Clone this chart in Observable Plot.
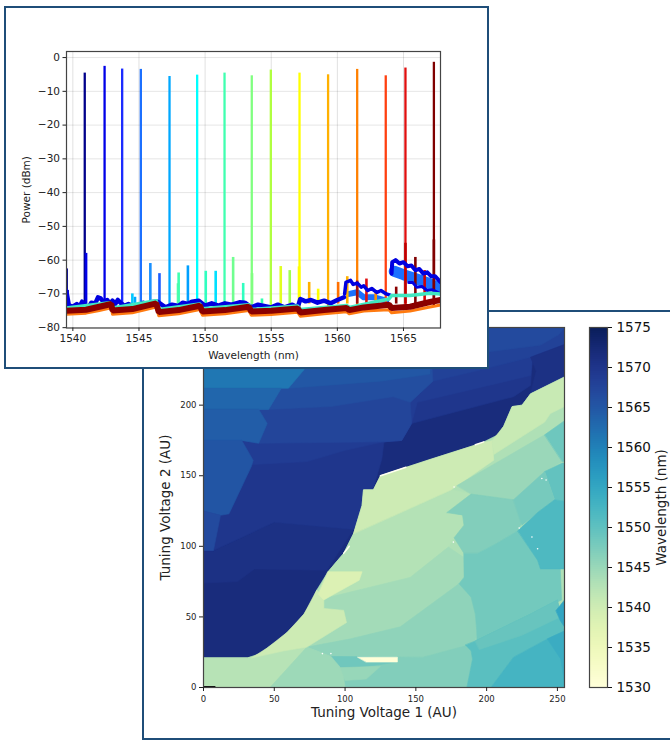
<!DOCTYPE html>
<html><head><meta charset="utf-8">
<script src="https://cdn.jsdelivr.net/npm/d3@7"></script>
<script src="https://cdn.jsdelivr.net/npm/@observablehq/plot@0.6"></script>
<style>
html,body{margin:0;padding:0;width:670px;height:740px;overflow:hidden;background:#fff;font-family:"DejaVu Sans",sans-serif}
.box{position:absolute;box-sizing:border-box;border:2px solid #1f4e79;background:#fff}
.layer{position:absolute;left:0;top:0}
.layer svg{display:block;background:transparent!important}
.soft{filter:blur(.7px)}
.soft2{filter:blur(.4px)}
</style></head><body>
<div class="box" style="left:142px;top:310px;width:560px;height:430px"></div>
<div class="layer" id="heat"></div>
<div class="layer" id="bar"></div>
<div class="box" style="left:4px;top:6px;width:485px;height:363px"></div>
<div class="layer" id="spec"></div>
<script>
const font = "DejaVu Sans";
// ---------- spectrum panel ----------
const peakWavelengths = [1540.9,1542.4,1543.73,1545.14,1547.31,1549.4,1551.47,1553.53,1554.97,1557.14,1559.3,1561.5,1563.66,1565.15,1567.3];
const peakPowers = [-4.6,-2.6,-3.4,-3.5,-5.6,-5.2,-4.6,-5.4,-3.7,-4.6,-5.1,-3.5,-5.4,-3.1,-1.4];
const peakColors = ["#00008b","#0000e8","#1c2cff","#1c70ff","#00a8ff","#00ffff","#40ffb0","#80ff80","#b0ff40","#ffff00","#ffb000","#ff8000","#ff4010","#e01010","#800000"];
const sideWavelengths = [1539.53,1539.6,1541.0,1544.5,1544.7,1545.86,1546.55,1547.95,1548.0,1548.7,1550.05,1550.8,1552.12,1552.88,1553.55,1554.3,1555.72,1556.4,1557.1,1557.87,1558.55,1560.06,1560.75,1561.5,1562.2,1562.9,1564.45,1565.15,1565.9,1566.6,1567.3];
const sidePowers = [-62.6,-69,-58,-70,-71,-61,-64,-67,-63.8,-61.7,-63.3,-63.3,-59.2,-66.9,-64,-71.5,-61.9,-63.1,-62,-66.6,-68.6,-66.6,-64.9,-66.2,-65.6,-69.5,-68,-55,-59.2,-63.1,-54];
const sideColors = ["#00008b","#00008b","#0000e8","#00c8ff","#00a8ff","#1a90ff","#1a5cff","#60ffa0","#40ffb0","#00a0ff","#2fffc0","#00e0ff","#70ff90","#30ffc0","#80ff80","#30ffb0","#e0ff20","#a0ff50","#ffff00","#ffb000","#ffff00","#ff7000","#ffb000","#a01010","#e01010","#ff9000","#8b0000","#c00000","#800000","#d00000","#800000"];
const blueFloor = [[1539.5,-69],[1539.7,-73.4],[1540,-73.8],[1540.3,-73],[1540.5,-73.8],[1540.7,-72.3],[1540.9,-73.2],[1541.2,-74],[1541.4,-72.6],[1541.7,-72.8],[1541.9,-71],[1542.1,-71.3],[1542.3,-72.3],[1542.6,-71.8],[1542.8,-73],[1543,-72],[1543.2,-73],[1543.4,-71.8],[1543.6,-72.6],[1543.9,-73.5],[1544.2,-73],[1544.5,-73.6],[1545,-73.5],[1545.3,-72.6],[1545.6,-73],[1546,-72.4],[1546.4,-72.3],[1547,-74],[1547.5,-73.2],[1548,-73.6],[1548.3,-72.6],[1548.7,-73],[1549,-72.3],[1549.5,-72],[1550,-73.5],[1550.5,-72.8],[1551,-73.5],[1551.5,-72.8],[1552,-73.2],[1552.6,-72.5],[1553,-72.6],[1553.5,-74],[1554,-73.2],[1555,-74],[1555.5,-73.2],[1556,-74],[1556.6,-73.2],[1557,-74],[1557.2,-71.5],[1557.6,-72.2],[1558,-71.8],[1558.5,-72.6],[1559,-72],[1559.5,-72.8],[1560,-71.8],[1560.5,-71]];
const blueHumpA = [[1560.55,-70],[1560.65,-66.6],[1561,-66],[1561.2,-67.2],[1561.5,-66.8],[1561.8,-68],[1562,-67.6],[1562.3,-69],[1562.6,-68.4],[1563,-69.6],[1563.3,-69],[1563.7,-70],[1564,-70.4]];
const blueHumpB = [[1564.1,-64],[1564.15,-60.6],[1564.4,-60],[1564.7,-61],[1565,-60.6],[1565.3,-61.8],[1565.6,-61.6],[1565.9,-63],[1566.2,-62.6],[1566.5,-64],[1566.8,-63.6],[1567.1,-64.8],[1567.4,-64.8],[1567.8,-66.5]];
const blueHumpC = [[1565.4,-66.6],[1565.7,-66.6],[1566,-68],[1566.4,-67.8],[1566.8,-69],[1567.2,-68.8],[1567.8,-70]];
const midBlueFloor = [[1560.9,-70],[1561.5,-69.5],[1562,-71],[1562.8,-71],[1563.7,-72]];
const midBlueHump = [[1564.3,-63.3],[1565,-64.3],[1566,-65.6],[1567,-67],[1567.8,-68.4]];
const greenFloor = [[1539.5,-74.2],[1542.8,-72.6],[1543,-74.2],[1546.3,-72],[1546.5,-74.6],[1549.6,-73],[1549.8,-74.4],[1553.3,-73.2],[1553.5,-74.6],[1557,-73.6],[1557.2,-74.6],[1560.7,-73.4],[1560.9,-74],[1563.9,-71.5],[1564.1,-70.5],[1565.5,-70.5],[1567,-69.8],[1567.8,-70]];
const orangeFloor = [[1539.5,-76],[1541,-75.7],[1542,-74.9],[1542.9,-74.1],[1543,-76],[1544.5,-75.6],[1546.3,-73.9],[1546.5,-76.5],[1548,-75.9],[1549.6,-74.6],[1549.8,-76.3],[1551.5,-75.9],[1553.3,-74.9],[1553.5,-76.3],[1555,-76.1],[1557,-75.4],[1557.2,-76.6],[1559,-75.9],[1560.7,-75.3],[1560.9,-75.9],[1562,-75.1],[1563.9,-74.7],[1564.1,-75.6],[1565.5,-75.1],[1567,-73.9],[1567.8,-73.3]];
const darkRedFloor = [[1539.5,-75],[1541,-74.7],[1542,-73.8],[1542.9,-73],[1543,-74.9],[1544.5,-74.5],[1546.3,-72.8],[1546.5,-75.4],[1548,-74.8],[1549.6,-73.5],[1549.8,-75.2],[1551.5,-74.8],[1553.3,-73.8],[1553.5,-75.2],[1555,-75],[1557,-74.3],[1557.2,-75.5],[1559,-74.8],[1560.7,-74.2],[1560.9,-74.8],[1562,-74],[1563.9,-73.2],[1564.1,-74.2],[1565.5,-73.8],[1567,-72.4],[1567.8,-71.8]];
const specXTicks = [1540,1545,1550,1555,1560,1565];
const specYTicks = [0,-10,-20,-30,-40,-50,-60,-70,-80];
const toXY = a => a.map(([x,y]) => ({x,y}));
const peaks = peakWavelengths.map((x,i) => ({x,y:peakPowers[i],c:peakColors[i]}));
const sides = sideWavelengths.map((x,i) => ({x,y:sidePowers[i],c:sideColors[i]}));
document.getElementById("spec").append(Plot.plot({
  width:490,height:370,marginLeft:66,marginRight:50,marginTop:51,marginBottom:42.5,
  style:{background:"transparent",fontFamily:font},
  x:{domain:[1539.52,1567.8]},y:{domain:[-80.1,1.8]},
  marks:[
    Plot.gridX(specXTicks,{stroke:"#000",strokeOpacity:.12}),
    Plot.gridY(specYTicks,{stroke:"#000",strokeOpacity:.1}),
    Plot.line(toXY(midBlueHump),{x:"x",y:"y",stroke:"#1a70ff",strokeWidth:11,clip:true,className:"soft2"}),
    Plot.line(toXY(midBlueFloor),{x:"x",y:"y",stroke:"#1a70ff",strokeWidth:6,clip:true,className:"soft2"}),
    Plot.ruleX(peaks,{x:"x",y1:-74,y2:"y",stroke:d=>d.c,strokeWidth:2.3,clip:true,className:"soft2"}),
    Plot.ruleX(sides,{x:"x",y1:-73,y2:"y",stroke:d=>d.c,strokeWidth:2.6,clip:true,className:"soft2"}),
    Plot.line(toXY(blueFloor),{x:"x",y:"y",stroke:"#0000e0",strokeWidth:4.5,clip:true,className:"soft2"}),
    Plot.line(toXY(blueHumpA),{x:"x",y:"y",stroke:"#0000e0",strokeWidth:3.5,clip:true,className:"soft2"}),
    Plot.line(toXY(blueHumpB),{x:"x",y:"y",stroke:"#0000e0",strokeWidth:4,clip:true,className:"soft2"}),
    Plot.line(toXY(blueHumpC),{x:"x",y:"y",stroke:"#0000e0",strokeWidth:3,clip:true,className:"soft2"}),
    Plot.line(toXY(greenFloor),{x:"x",y:"y",stroke:"#40e8c0",strokeWidth:3.5,clip:true,className:"soft2"}),
    Plot.line(toXY(orangeFloor),{x:"x",y:"y",stroke:"#ff7a10",strokeWidth:3,clip:true,className:"soft2"}),
    Plot.line(toXY(darkRedFloor),{x:"x",y:"y",stroke:"#8b0000",strokeWidth:6,strokeLinejoin:"miter",clip:true,className:"soft2"}),
    Plot.frame({stroke:"#444",strokeWidth:1.2}),
    Plot.axisX(specXTicks,{tickSize:3.5,tickPadding:3,fontSize:10.5,label:null,tickFormat:"d",color:"#222"}),
    Plot.axisY(specYTicks,{tickSize:3.5,tickPadding:3,fontSize:10.5,label:null,color:"#222"}),
    Plot.text(["Wavelength (nm)"],{frameAnchor:"bottom",dy:31,fontSize:10.5,fill:"#222"}),
    Plot.text(["Power (dBm)"],{frameAnchor:"left",dx:-40,rotate:-90,textAnchor:"middle",fontSize:10.5,fill:"#222"})
  ]
}));

// ---------- tuning map panel ----------
const regionWavelengths = [
 1571.5,1570.6,1569.6,1568.5,1567.2,1567.7,1566.5,1566,1564.8,1561,1563,1564,1565,1566.5,1570.6,
 1543,1542.5,1544,1545.7,1546.8,1548.3,1545,1530,1542.3,1544.5,1540,1538,1540,1540.5,1544.8,1546.8,1548.5,1549.5,1547.7,1548,1551.5,1550.3,1549,1552.5,1553.8,1555];
const regionOutlines = [
 [[0,0],[255,0],[255,255],[0,255]],
 [[0,74],[24,75],[36,84],[87,83],[106,112],[50,117],[7,97],[0,97]],
 [[0,97],[7,97],[50,117],[106,112],[120,141],[126,162],[127.5,174],[140,175],[147,187],[219,206],[231,214],[234,255],[0,255]],
 [[0,158],[35,158],[73,160],[100,168],[127,174],[140,175],[147,187],[151,202],[231,221],[235,255],[0,255]],
 [[0,175],[27,175],[39,173],[127,174],[140,175],[147,187],[146,202],[162,217],[160,255],[0,255]],
 [[162,217],[196,225],[231,234],[255,243],[255,255],[160,255]],
 [[160,238],[203,238],[238,242.5],[251,250],[255,255],[160,255]],
 [[0,197],[46,197],[90,199],[134,206],[146,202],[162,217],[160,255],[0,255]],
 [[60,212],[125,217],[160,222],[160,255],[85,255],[71,225]],
 [[0,255],[85,255],[71,225],[60,212],[0,212]],
 [[0,212],[55,212],[46,197],[0,197]],
 [[0,197],[39,197],[45,187],[39,173],[27,175],[0,175]],
 [[0,175],[27,175],[35,161],[34,157],[18,123],[12,122],[0,125]],
 [[0,125],[12,122],[7,97],[0,97]],
 [[231,208],[235,224],[231,234],[255,243],[255,219]],
 [[0,21],[31,21],[40,24],[45,28],[52,33],[59,39],[65,45],[71,52],[76,60],[80,69],[88,82],[93,88],[99,95],[106,109],[112,129],[113,140],[120,140],[125,150],[160,161.5],[196,173],[208,179],[212,185],[218,199],[225,200],[231,208],[255,220],[255,0],[0,0]],
 [[85,63],[88,82],[99,95],[106,109],[175,140],[189,137],[172,124],[183,122],[184,115],[177,106],[173,99.5],[146,78]],
 [[85,63],[146,78],[173,99.5],[184,92],[184,78],[180.5,73.5],[139,43],[104,34.5],[73,28.6],[101,46],[99,55],[85,56]],
 [[73,28.6],[104,34.5],[139,43],[180.5,73.5],[189,64],[192,52],[193,40],[192,32],[185,29.5],[155,21.5],[90,22]],
 [[90,22],[155,21.5],[185,29.5],[189,26],[190,20],[188,10],[186,0],[100,0],[95,13]],
 [[91,22],[137,21.5],[137,18],[111,14.4],[95,14.4]],
 [[95,14],[125,15],[115,6],[100,5]],
 [[109,21.5],[137,21.5],[137,18],[115,18]],
 [[0,0],[0,21],[31,21],[57,26],[73,28.6],[47,0]],
 [[47,0],[73,28.6],[90,22],[96,15],[99,7],[100,0]],
 [[34,21],[45,28],[59,39],[71,52],[80,69],[85,64],[85,56],[99,54.6],[101,46],[73,28.6],[57,26]],
 [[88,82],[112,82],[110,76],[92,66],[85,62],[81,66]],
 [[106,109],[112,129],[113,140],[120,140],[125,150],[160,161.5],[196,173],[204,175],[205,161],[175,140]],
 [[205,165],[241,188],[245,194],[255,199],[255,220],[231,208],[225,200],[218,199],[212,185],[204,175]],
 [[179,143],[241,179],[253.5,160],[241,153],[219,133],[200,133],[189,137]],
 [[172,124],[189,137],[219,133],[225,117],[222,111],[207,102],[193.5,95],[184,95],[177,106],[184,115],[183,122]],
 [[241,179],[255,189],[255,160],[253.5,160]],
 [[241,153],[253.5,159],[255,159],[255,132],[248,133]],
 [[219,133],[241,153],[248,133],[236,124],[225,115]],
 [[184,95],[193.5,95],[207,102],[222,111],[236,90],[238,84],[252,84],[253,62],[231,52],[193,33],[193,40],[192,52],[189,64],[180.5,73.5],[184,78]],
 [[222,111],[236,124],[248,133],[255,132],[255,84],[238,84],[236,90]],
 [[192,33],[231,52],[250,62],[253,48],[255,40],[243,34.5],[219,21.5],[203,0],[186,0],[188,10],[190,20],[189,26],[185,30]],
 [[192,33],[231,52],[250,62],[252,50],[225,37],[195,27]],
 [[203,0],[219,21.5],[243,34.5],[255,40],[255,0]],
 [[243,34.5],[255,40],[255,3],[252.4,20]],
 [[249,54.6],[255,62],[255,42.7],[252,47.5]]
];
const specks = [[177,142],[239,148],[242,147],[223,113],[176.5,103],[232,106.6],[236,98.3],[84,24],[90,24]];
const paleEdges = [[[125,150],[143,156]],[[192,172],[198,174]],[[99,95],[103,100]]];
const originMark = [[0,0.6],[8,0.6]];
const mapXTicks = [0,50,100,150,200,250];
const mapYTicks = [0,50,100,150,200];
const barTicks = [1530,1535,1540,1545,1550,1555,1560,1565,1570,1575];
const barSteps = d3.range(1530,1575,0.25);
const colorScale = {type:"linear",scheme:"YlGnBu",domain:[1530,1575]};
const cells = regionOutlines.flatMap((pts,i) => pts.map(([x,y]) => ({x,y,id:i,w:regionWavelengths[i]})));
const edgePts = paleEdges.flatMap((pts,i) => pts.map(([x,y]) => ({x,y,id:i})));
document.getElementById("heat").append(Plot.plot({
  width:670,height:740,marginLeft:203,marginRight:106,marginTop:327,marginBottom:53,
  style:{background:"transparent",fontFamily:font},
  x:{domain:[0,255]},y:{domain:[0,255]},color:colorScale,
  marks:[
    Plot.line(cells,{x:"x",y:"y",z:"id",fill:"w",stroke:"w",strokeWidth:.6,curve:"linear-closed",clip:true,className:"soft"}),
    Plot.line(edgePts,{x:"x",y:"y",z:"id",stroke:"#fffff0",strokeWidth:1.5,clip:true,className:"soft"}),
    Plot.dot(toXY(specks),{x:"x",y:"y",r:.8,fill:"#fff",stroke:"none",clip:true}),
    Plot.line(toXY(originMark),{x:"x",y:"y",stroke:"#111",strokeWidth:1.5,clip:true}),
    Plot.frame({stroke:"#444",strokeWidth:1.2}),
    Plot.axisX(mapXTicks,{tickSize:4,tickPadding:4,fontSize:8.5,label:null,color:"#222"}),
    Plot.axisY(mapYTicks,{tickSize:4,tickPadding:3,fontSize:8.5,label:null,color:"#222"}),
    Plot.text(["Tuning Voltage 1 (AU)"],{frameAnchor:"bottom",dy:29,fontSize:13.5,fill:"#222"}),
    Plot.text(["Tuning Voltage 2 (AU)"],{frameAnchor:"left",dx:-38,rotate:-90,textAnchor:"middle",fontSize:13.5,fill:"#222"})
  ]
}));
document.getElementById("bar").append(Plot.plot({
  width:670,height:740,marginLeft:589,marginRight:63,marginTop:327,marginBottom:53,
  style:{background:"transparent",fontFamily:font},
  x:{domain:[0,1],axis:null},y:{domain:[1530,1575]},color:colorScale,
  marks:[
    Plot.rect(barSteps,{x1:()=>0,x2:()=>1,y1:d=>d,y2:d=>Math.min(d+.35,1575),fill:d=>d}),
    Plot.frame({stroke:"#444",strokeWidth:1.2}),
    Plot.axisY(barTicks,{anchor:"right",tickSize:4,tickPadding:5,fontSize:13.5,label:null,tickFormat:"d",color:"#111"}),
    Plot.text(["Wavelength (nm)"],{frameAnchor:"right",dx:54,rotate:-90,textAnchor:"middle",fontSize:13.5,fill:"#222"})
  ]
}));
</script>
</body></html>
